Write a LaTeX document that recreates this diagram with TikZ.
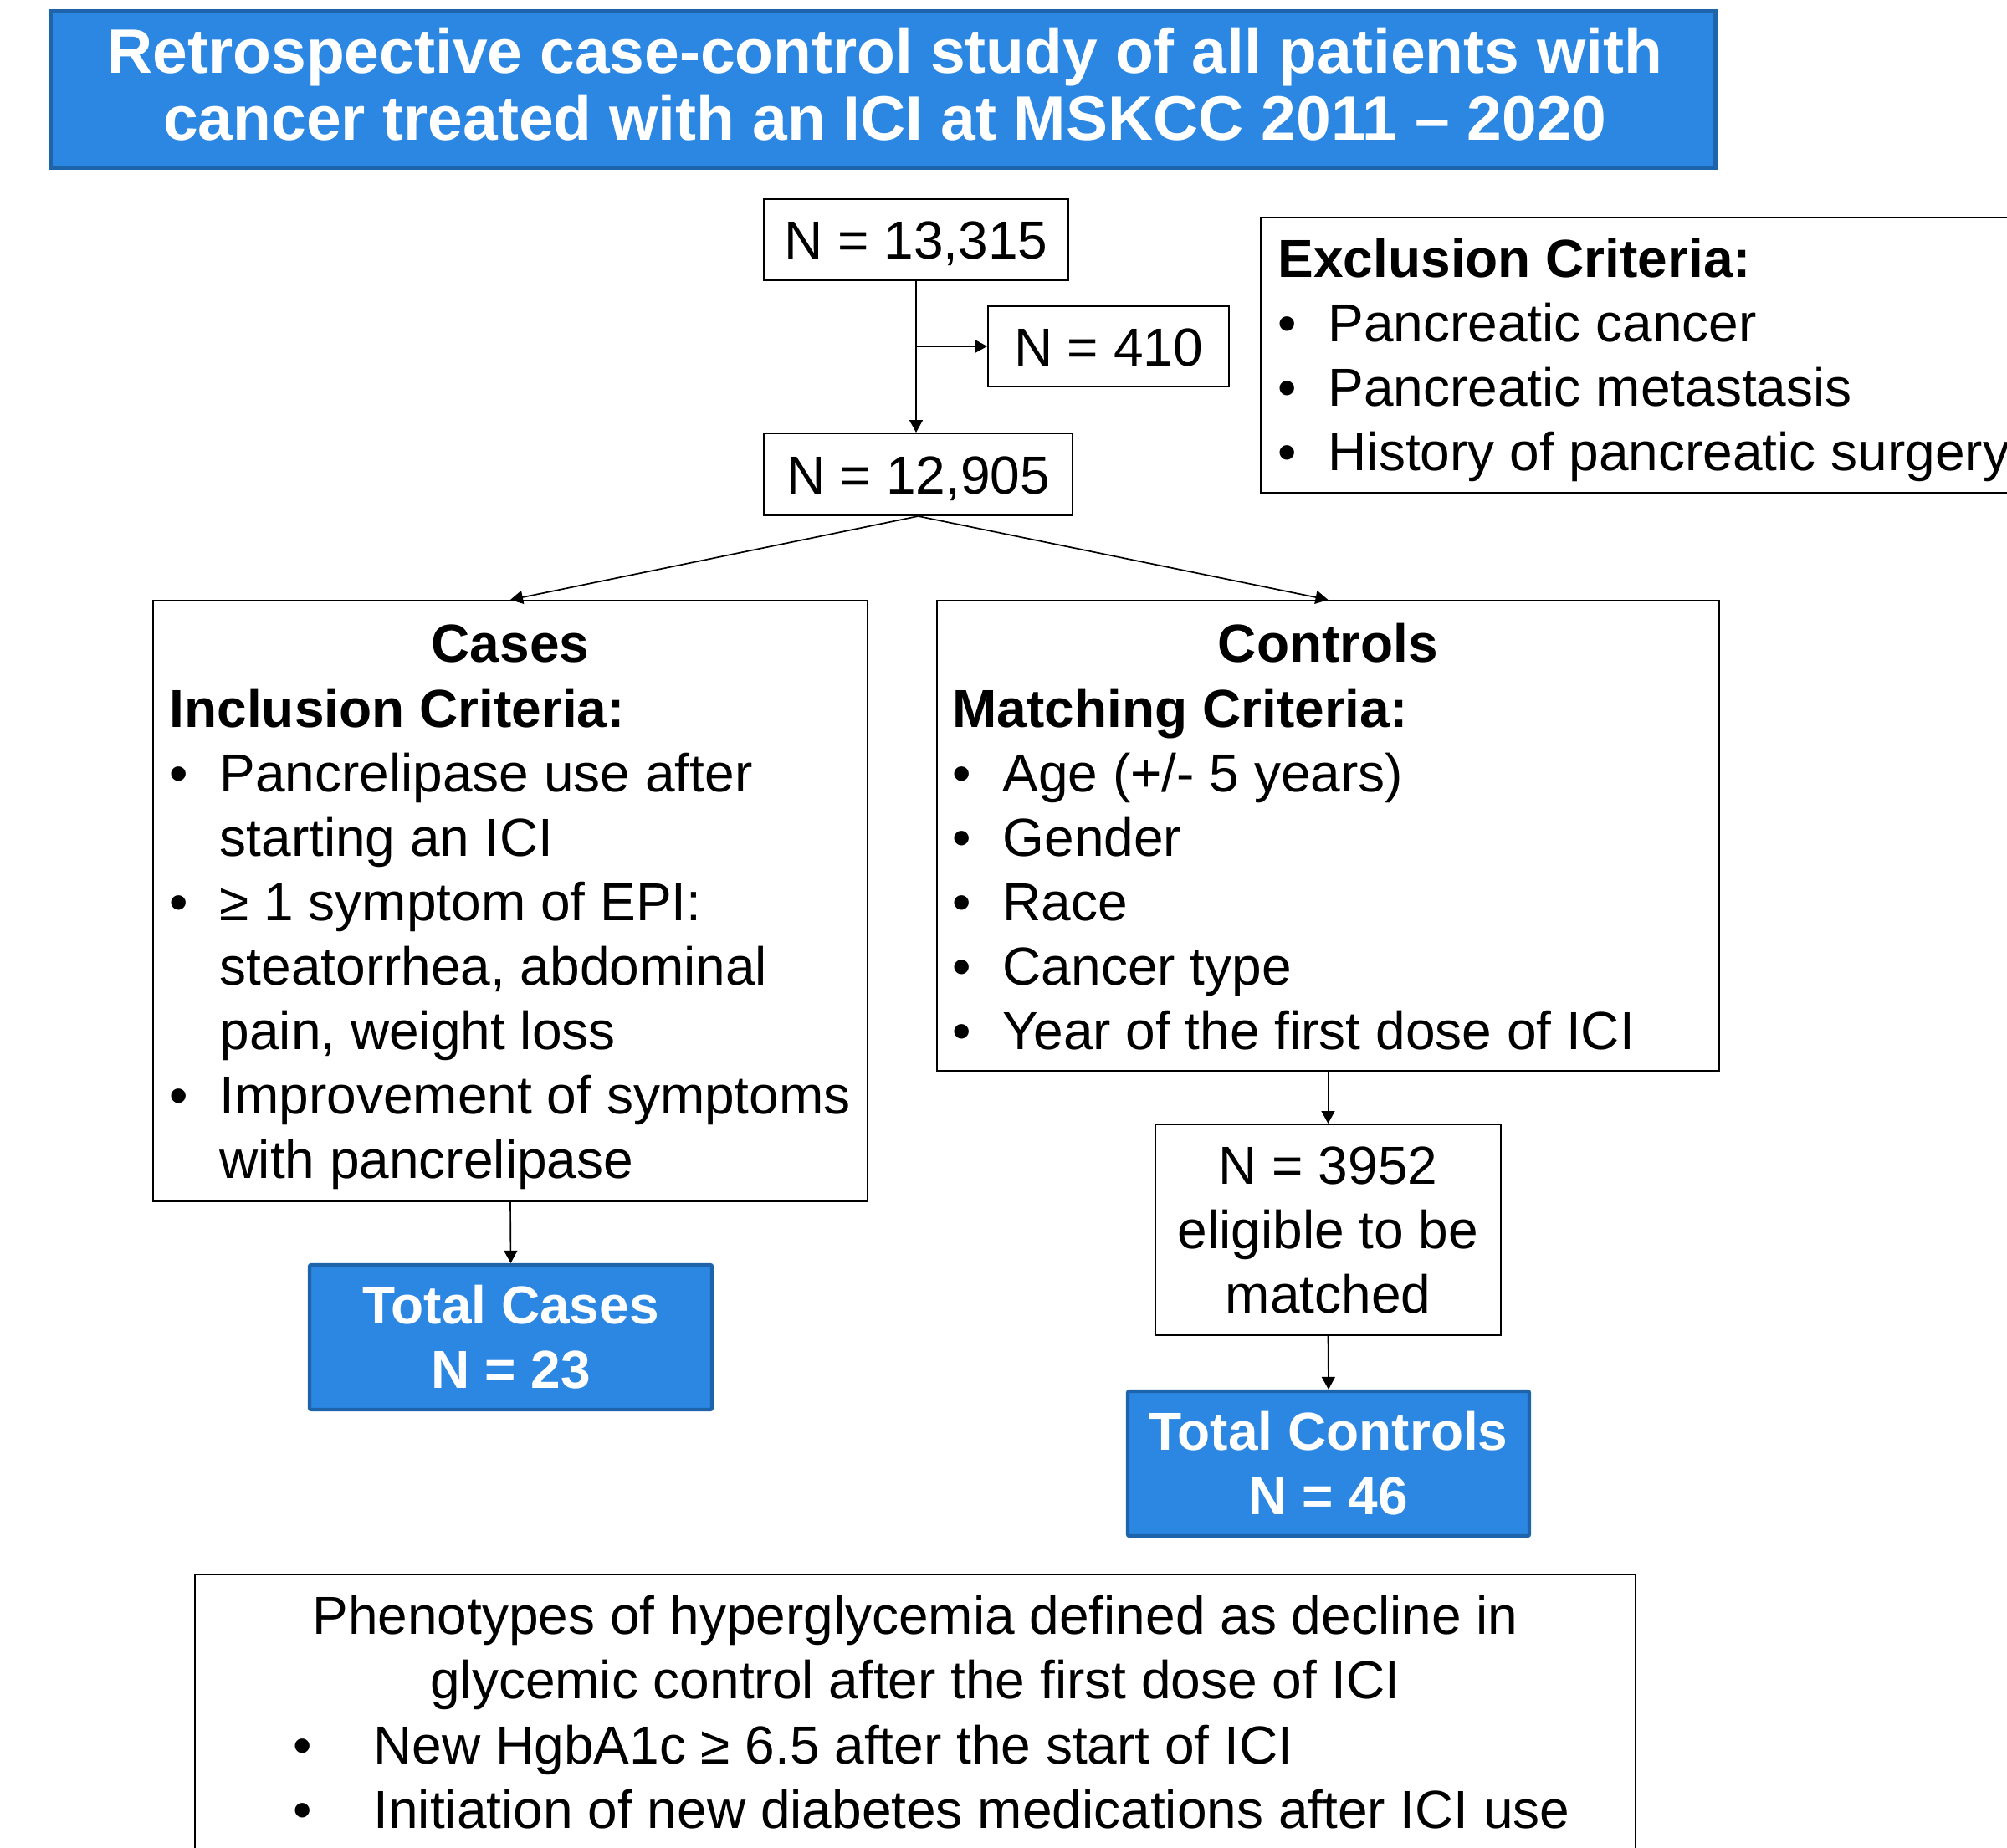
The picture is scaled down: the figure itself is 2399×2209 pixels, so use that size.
\documentclass[tikz,border=0pt]{standalone}
\usepackage{fontspec}
\setmainfont{Liberation Sans}
\usetikzlibrary{arrows.meta}
\definecolor{blu}{RGB}{43,135,226}
\definecolor{bord}{RGB}{30,100,170}
\newcommand\bodyf{\fontsize{19.2pt}{23.1pt}\selectfont}
\newcommand\titlef{\fontsize{22.5pt}{24pt}\selectfont\bfseries}
\newcommand\fls{\rule{0pt}{18pt}}
\newcommand\bul{\makebox[18pt][l]{•}}
\newcommand\ind{\hspace*{18pt}}
\newcommand\wbul{\makebox[28.8pt][l]{•}}
\begin{document}
\begin{tikzpicture}[x=0.3pt,y=-0.3pt,
  box/.style={draw=black, line width=0.6pt, rectangle, inner sep=0pt, font=\bodyf},
  bluebox/.style={draw=bord, fill=blu, line width=1.3pt, rectangle, rounded corners=0.6pt,
     inner sep=0pt, text=white, font=\bodyf\bfseries, align=center},
  nbox/.style={box, text height=13.8pt, text depth=0pt},
  txtl/.style={anchor=north west, inner sep=0pt, yshift=18pt, align=left, font=\bodyf},
  txtc/.style={anchor=north, inner sep=0pt, yshift=18pt, align=center, font=\bodyf},
  hdr/.style={anchor=base, inner sep=0pt, font=\bodyf\bfseries},
  conn/.style={draw=black, line width=0.5pt, -{Triangle[length=4.5pt,width=4.8pt]}}]
\useasboundingbox (0,0) rectangle (2399,2209);
\clip (0,0) rectangle (2399,2209);

% title
\node[draw=bord, fill=blu, line width=1.5pt, rectangle, inner sep=0pt,
      minimum width=597pt, minimum height=56.1pt] (title) at (1055.5,107) {};
\node[txtc, font=\titlef, text=white] (titleT) at (1058,87)
  {\fls Retrospective case-control study of all patients with\\cancer treated with an ICI at MSKCC 2011 – 2020};

% N boxes
\node[nbox, minimum width=109.2pt, minimum height=29.1pt] (n13) at (1095,286.5) {N = 13,315};
\node[nbox, minimum width=86.4pt, minimum height=28.8pt] (n410) at (1325,414) {N = 410};
\node[nbox, minimum width=110.7pt, minimum height=29.4pt] (n12) at (1097.5,567) {N = 12,905};

% exclusion
\node[box, minimum width=276.9pt, minimum height=98.7pt] (excl) at (1968.5,424.5) {};
\node[txtl] (exclT) at (1527,331)
  {\fls\textbf{Exclusion Criteria:}\\
   \bul Pancreatic cancer\\
   \bul Pancreatic metastasis\\
   \bul History of pancreatic surgery};

% cases
\node[box, minimum width=256.2pt, minimum height=215.4pt] (cases) at (610,1077) {};
\node[hdr] (casesH) at (610,791) {Cases};
\node[txtl] (casesT) at (202,869)
  {\fls\textbf{Inclusion Criteria:}\\
   \bul Pancrelipase use after\\
   \ind starting an ICI\\
   \bul ≥ 1 symptom of EPI:\\
   \ind steatorrhea, abdominal\\
   \ind pain, weight loss\\
   \bul Improvement of symptoms\\
   \ind with pancrelipase};

% controls
\node[box, minimum width=280.5pt, minimum height=168.6pt] (controls) at (1587.5,999) {};
\node[hdr] (controlsH) at (1587.5,791) {Controls};
\node[txtl] (controlsT) at (1138,869)
  {\fls\textbf{Matching Criteria:}\\
   \bul Age (+/- 5 years)\\
   \bul Gender\\
   \bul Race\\
   \bul Cancer type\\
   \bul Year of the first dose of ICI};

% totals
\node[bluebox, minimum width=144.3pt, minimum height=51.9pt] (totcases) at (610.5,1598.5)
  {Total Cases\\N = 23};
\node[box, align=center, minimum width=123.9pt, minimum height=75.6pt] (n3952) at (1587.5,1470)
  {N = 3952\\eligible to be\\matched};
\node[bluebox, minimum width=144pt, minimum height=51.9pt] (totctrl) at (1588,1749.5)
  {Total Controls\\N = 46};

% bottom
\node[box, minimum width=516.6pt, minimum height=113.4pt] (bottom) at (1094,2071) {};
\node[txtc] (bottomT) at (1094,1953)
  {\fls Phenotypes of hyperglycemia defined as decline in\\glycemic control after the first dose of ICI};
\node[txtl] (bottomL) at (350,2108)
  {\fls\wbul New HgbA1c ≥ 6.5 after the start of ICI\\
   \wbul Initiation of new diabetes medications after ICI use};

% connectors
\draw[conn] (n13.south) -- (n13.south |- n12.north);
\draw[conn] (n13.south |- n410.west) -- (n410.west);
\draw[conn] (n12.south) -- (cases.north);
\draw[conn] (n12.south) -- (controls.north);
\draw[conn] (cases.south) -- (totcases.north);
\draw[conn] (controls.south) -- (n3952.north);
\draw[conn] (n3952.south) -- (totctrl.north);
\end{tikzpicture}
\end{document}
